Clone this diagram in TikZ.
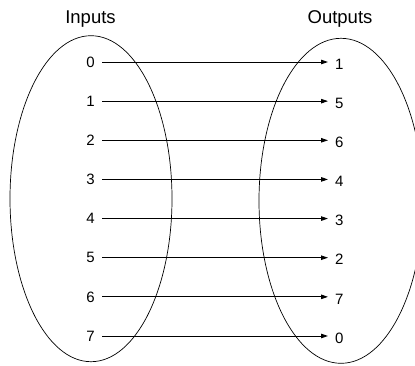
\documentclass[tikz,border=0pt]{standalone}
\usepackage{fontspec}
\setmainfont{Liberation Sans}
\usetikzlibrary{arrows.meta}

\tikzset{
  digit/.style={font=\fontsize{15}{18}\selectfont, inner xsep=7pt, inner ysep=1pt},
  title/.style={font=\fontsize{18.5}{22}\selectfont, anchor=base},
  maparrow/.style={line width=0.9pt, -{Triangle[length=7pt,width=4.5pt]}}
}

\begin{document}
\begin{tikzpicture}[x=1pt,y=-1pt]
  \useasboundingbox (0,0) rectangle (415,365);
  \clip (0,0) rectangle (415,365);
  % The two sets
  \draw[line width=0.7pt] (91,198.7) ellipse [x radius=81, y radius=163];
  \draw[line width=0.7pt] (341,200.8) ellipse [x radius=82, y radius=162.5];
  % Titles
  \node[title] (inputs) at (90.5,23) {Inputs};
  \node[title] (outputs) at (340,23) {Outputs};
  % Mapping
  \foreach \i/\o in {0/1,1/5,2/6,3/4,4/3,5/2,6/7,7/0} {
    \node[digit, anchor=east] (in\i) at (102, 62+39.14*\i) {\i};
    \node[digit, anchor=west] (out\i) at (328, 64+39.14*\i) {\o};
    \draw[maparrow] (in\i.east) -- (in\i.east -| out\i.west);
  }
\end{tikzpicture}
\end{document}
